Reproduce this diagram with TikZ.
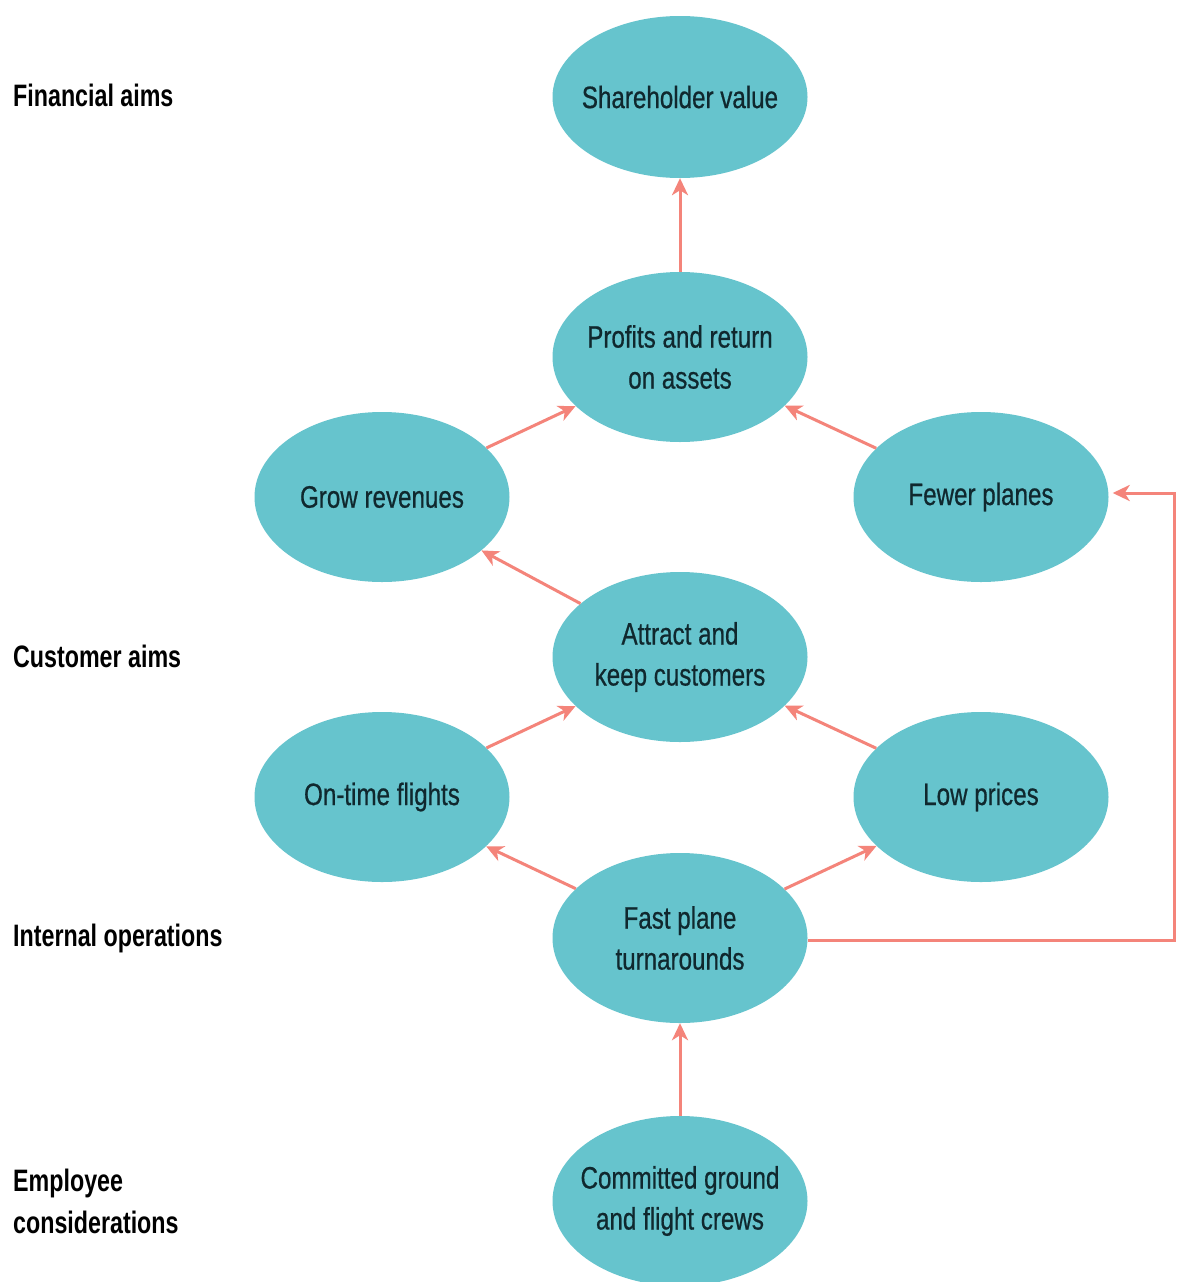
\documentclass[tikz,border=0pt]{standalone}
\usepackage{fontspec}
\setmainfont{Liberation Sans}[FakeStretch=0.78]
\newfontfamily\elfont{Liberation Sans}[FakeStretch=0.78,FakeBold=0.6]
\newfontfamily\sidefont{Liberation Sans Bold}[FakeStretch=0.75]
\usetikzlibrary{shapes.geometric,arrows.meta}
\definecolor{elfill}{RGB}{102,196,205}
\definecolor{arr}{RGB}{244,132,122}
\definecolor{eltext}{RGB}{16,40,46}
\tikzset{
  el/.style={ellipse, fill=elfill, draw=none, minimum width=255pt, minimum height=170pt, inner sep=0pt},
  lbl/.style={text=eltext, align=center, font=\elfont\fontsize{31}{41}\selectfont},
  side/.style={anchor=west, align=left, text=black, font=\sidefont\fontsize{31}{42}\selectfont, inner sep=0pt},
  conn/.style={draw=arr, line width=3pt, -{Stealth[length=17pt,width=16pt,inset=5pt]}}
}
\begin{document}
\begin{tikzpicture}[x=1pt,y=-1pt]
\useasboundingbox (0,0) rectangle (1187,1282);
\fill[white] (0,0) rectangle (1187,1282);
\begin{scope}
\clip (0,0) rectangle (1187,1282);
\node[el, minimum height=162pt, label={[lbl]center:Shareholder value}] (share) at (680,97) {};
\node[el, label={[lbl]center:Profits and return\\on assets}] (profits) at (680,357) {};
\node[el, label={[lbl]center:Grow revenues}] (grow) at (382,497) {};
\node[el, label={[lbl]center:Fewer planes}] (fewer) at (981,497) {};
\node[el, label={[lbl]center:Attract and\\keep customers}] (attract) at (680,657) {};
\node[el, label={[lbl]center:On-time flights}] (ontime) at (382,797) {};
\node[el, label={[lbl]center:Low prices}] (low) at (981,797) {};
\node[el, label={[lbl]center:Fast plane\\turnarounds}] (fast) at (680,938) {};
\node[el, label={[lbl]center:Committed ground\\and flight crews}] (crew) at (680,1201) {};
\end{scope}

\node[side] (fin) at (13,95) {Financial aims};
\node[side] (cust) at (13,656) {Customer aims};
\node[side] (intern) at (13,938) {Internal operations};
\node[side] (empl) at (13,1201) {Employee\\considerations};

\draw[conn] (profits) -- (share);
\draw[conn] (grow) -- (profits);
\draw[conn] (fewer) -- (profits);
\draw[conn] (attract) -- (grow);
\draw[conn] (ontime) -- (attract);
\draw[conn] (low) -- (attract);
\draw[conn] (fast) -- (ontime);
\draw[conn] (fast) -- (low);
\draw[conn] (crew) -- (fast);
\coordinate (c1) at (1174,940);
\coordinate (c2) at (1174,493);
\draw[conn, shorten >=4pt] (fast.east |- c1) -- (c1) -- (c2) -- (c2 -| fewer.east);
\end{tikzpicture}
\end{document}
